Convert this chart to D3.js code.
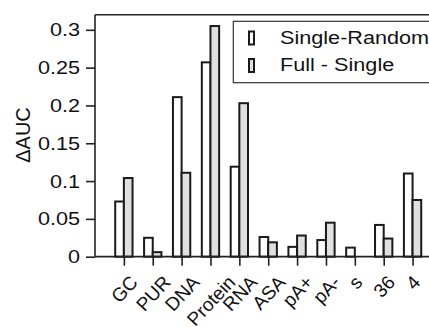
<!DOCTYPE html>
<html><head><meta charset="utf-8">
<script src="https://cdn.jsdelivr.net/npm/d3@7"></script>
<style>body{margin:0;background:#fff}svg{display:block}text{font-family:"Liberation Sans",Arial,sans-serif;fill:#111}</style>
</head><body><svg id="c" width="429" height="327"></svg>
<script>
const categories = ["GC","PUR","DNA","Protein","RNA","ASA","pA+","pA-","s","36","4"];
const singleRandom = [0.073,0.025,0.211,0.257,0.119,0.026,0.013,0.022,0.012,0.042,0.110];
const fullSingle   = [0.104,0.006,0.111,0.305,0.203,0.019,0.028,0.045,0.000,0.024,0.075];
const yTicks = [0,0.05,0.1,0.15,0.2,0.25,0.3];
const yTickLabels = ["0","0.05","0.1","0.15","0.2","0.25","0.3"];
const seriesNames = ["Single-Random","Full - Single"];
const seriesColors = ["#ffffff","#e0e0e0"];

const SX = 1.17, FS = 18.5, XFS = 19, ANG = 47;
const svg = d3.select("#c");
const L = 95, T = 14.7, B = 256.7, step = 28.87;
const x = d3.scaleLinear().domain([0,12]).range([L, L + 12*step]);
const y = d3.scaleLinear().domain([0,0.32]).range([B, T]);
const bw = 0.3;

const g = svg.append("g");
[singleRandom, fullSingle].forEach((vals, si) => {
  g.selectAll(null).data(vals).enter().append("rect")
    .attr("x", (d,i) => x(i+1 + (si===0 ? -bw : 0)))
    .attr("width", x(bw) - x(0))
    .attr("y", d => y(d))
    .attr("height", d => y(0) - y(d))
    .attr("fill", seriesColors[si])
    .attr("stroke", "#1a1a1a").attr("stroke-width", 2);
});

svg.append("line").attr("x1", L).attr("x2", L).attr("y1", T).attr("y2", B).attr("stroke","#222").attr("stroke-width",1.6);
svg.append("line").attr("x1", L).attr("x2", 440).attr("y1", T).attr("y2", T).attr("stroke","#222").attr("stroke-width",1.6);
svg.append("line").attr("x1", L).attr("x2", 440).attr("y1", B).attr("y2", B).attr("stroke","#222").attr("stroke-width",1.8);

const yAxis = d3.axisLeft(y).tickValues(yTicks).tickFormat((d,i) => yTickLabels[i]).tickSize(9).tickPadding(6);
const ya = svg.append("g").attr("transform", `translate(${L},0)`).call(yAxis);
ya.select(".domain").remove();
ya.selectAll(".tick line").attr("stroke","#222").attr("stroke-width",1.6);
ya.selectAll(".tick text").style("font-size",FS+"px").attr("fill","#111")
  .attr("font-family",'"Liberation Sans",Arial,sans-serif')
  .attr("x",0).attr("transform",`translate(-15,0) scale(${SX},1)`);

const xAxis = d3.axisBottom(x).tickValues(d3.range(1,12)).tickFormat((d) => categories[d-1]).tickSize(9).tickPadding(4);
const xa = svg.append("g").attr("transform", `translate(0,${B})`).call(xAxis);
xa.select(".domain").remove();
xa.selectAll(".tick line").attr("stroke","#222").attr("stroke-width",1.6);
const rad = ANG * Math.PI / 180;
xa.selectAll(".tick text").style("font-size",XFS+"px").attr("fill","#111")
  .attr("font-family",'"Liberation Sans",Arial,sans-serif')
  .attr("text-anchor","middle").attr("y",0).attr("dy","0.35em")
  .attr("transform", function() {
    const w = this.getComputedTextLength();
    const h = 0.72 * XFS;
    const half = (w * Math.sin(rad) + h * Math.cos(rad)) / 2;
    const cy = 274 - B + half;
    return `translate(0,${cy}) rotate(${-ANG})`;
  });

svg.append("text").attr("transform",`translate(30,135) rotate(-90) scale(0.95,1)`).attr("text-anchor","middle")
  .style("font-size","21px").text("ΔAUC");

const lg = svg.append("g");
lg.append("rect").attr("x",233.3).attr("y",21.3).attr("width",220).attr("height",61.4)
  .attr("fill","#fff").attr("stroke","#333").attr("stroke-width",1.2);
seriesNames.forEach((n,i) => {
  const yy = 31.5 + i*27.5;
  lg.append("rect").attr("x",249).attr("y",yy).attr("width",5).attr("height",13)
    .attr("fill",seriesColors[i]).attr("stroke","#1a1a1a").attr("stroke-width",2);
  lg.append("text").attr("transform",`translate(280,${yy+12.3}) scale(${SX},1)`).style("font-size",FS+"px").text(n);
});
</script></body></html>
